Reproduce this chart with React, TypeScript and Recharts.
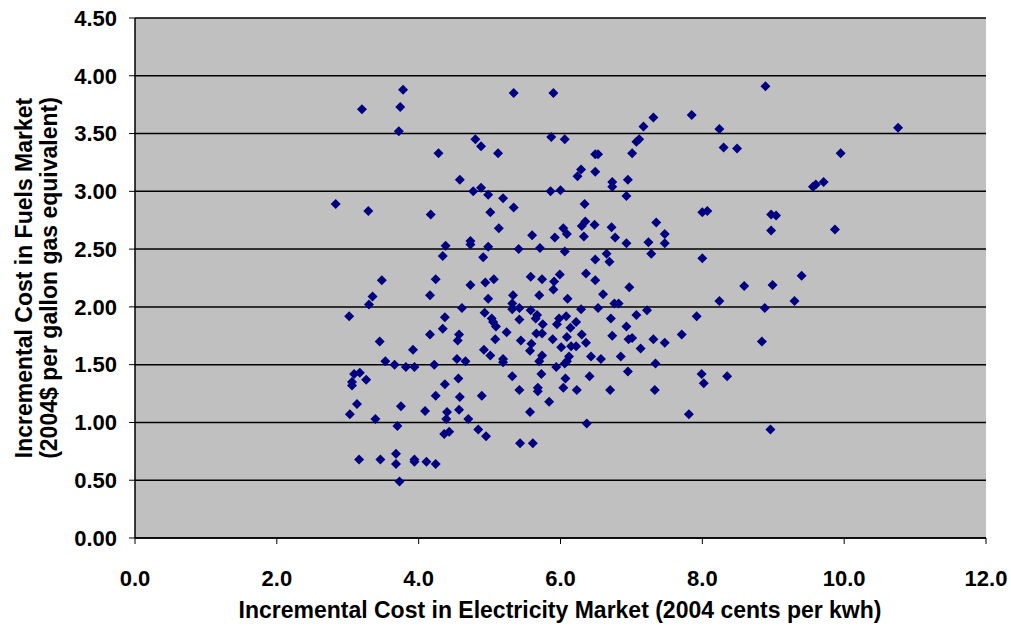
import React from 'react';
import { ScatterChart, Scatter, XAxis, YAxis, CartesianGrid } from 'recharts';

// [electricity cost (cents/kwh), fuels cost ($/gal)] pairs, grouped by electricity band
const band3: [number, number][] = [
  [2.83, 2.89], [3.02, 1.92], [3.03, 1.07], [3.06, 1.35], [3.06, 1.32], [3.09, 1.42], [3.13, 1.16],
  [3.16, 0.68], [3.17, 1.43], [3.2, 3.71], [3.26, 1.37], [3.29, 2.83], [3.3, 2.02], [3.35, 2.09],
  [3.39, 1.03], [3.45, 1.7], [3.46, 0.68], [3.48, 2.23], [3.53, 1.53], [3.66, 1.5], [3.68, 0.73],
  [3.68, 0.64], [3.7, 0.97], [3.72, 3.52], [3.74, 3.73], [3.75, 1.14], [3.73, 0.49], [3.78, 3.88],
  [3.82, 1.48], [3.92, 1.63], [3.94, 1.48], [3.94, 0.68], [3.94, 0.66],
];

const band4: [number, number][] = [
  [4.09, 1.1], [4.11, 0.66], [4.16, 2.1], [4.16, 1.76], [4.17, 2.8], [4.22, 1.5], [4.24, 2.24],
  [4.24, 1.23], [4.24, 0.64], [4.28, 3.33], [4.34, 2.44], [4.34, 1.81], [4.36, 0.9], [4.37, 1.91],
  [4.37, 1.33], [4.38, 2.53], [4.39, 1.03], [4.4, 1.09], [4.43, 0.92], [4.54, 1.55], [4.55, 1.71],
  [4.56, 1.38], [4.57, 1.76], [4.57, 1.11], [4.58, 3.1], [4.58, 1.22], [4.61, 1.99], [4.66, 1.53],
  [4.7, 1.03], [4.73, 2.57], [4.73, 2.54], [4.73, 2.19], [4.77, 3.0], [4.8, 3.45], [4.84, 0.94],
  [4.88, 3.39], [4.88, 3.03], [4.89, 1.23], [4.91, 2.43], [4.92, 1.63], [4.93, 1.95], [4.94, 2.21],
  [4.95, 0.88], [4.98, 2.97], [4.98, 2.52], [4.98, 2.07],
];

const band5: [number, number][] = [
  [5.01, 2.82], [5.01, 1.58], [5.03, 1.9], [5.05, 1.87], [5.06, 2.24], [5.08, 1.72], [5.09, 1.83],
  [5.12, 3.33], [5.13, 2.68], [5.19, 2.94], [5.19, 1.55], [5.19, 1.52], [5.24, 1.78], [5.32, 2.03],
  [5.32, 1.98], [5.32, 1.4], [5.33, 2.1], [5.34, 3.85], [5.34, 2.86], [5.41, 2.5], [5.42, 1.99],
  [5.42, 1.89], [5.42, 1.28], [5.43, 0.82], [5.44, 1.71], [5.57, 1.62], [5.57, 1.09], [5.58, 2.26],
  [5.58, 1.97], [5.59, 1.68], [5.6, 2.62], [5.61, 0.82], [5.65, 1.9], [5.66, 1.77], [5.67, 1.93],
  [5.68, 1.3], [5.68, 1.27], [5.7, 2.1], [5.7, 1.53], [5.71, 2.51], [5.73, 1.42], [5.74, 2.24],
  [5.74, 1.77], [5.74, 1.58], [5.75, 1.85], [5.84, 1.18], [5.86, 3.0], [5.87, 3.47], [5.89, 1.72],
  [5.9, 3.85], [5.9, 2.15], [5.91, 2.22], [5.92, 2.6], [5.94, 1.48], [5.95, 1.85], [5.98, 1.9],
  [5.99, 2.28],
];

const band6: [number, number][] = [
  [6.0, 3.01], [6.01, 1.65], [6.04, 2.68], [6.04, 1.3], [6.06, 3.45], [6.06, 2.48], [6.06, 1.51],
  [6.07, 1.38], [6.08, 1.92], [6.09, 2.63], [6.09, 1.74], [6.09, 1.53], [6.1, 2.07], [6.12, 1.57],
  [6.14, 1.82], [6.15, 1.66], [6.22, 1.87], [6.22, 1.66], [6.23, 1.28], [6.24, 3.13], [6.29, 3.19],
  [6.29, 1.98], [6.3, 2.7], [6.3, 1.76], [6.33, 2.61], [6.34, 2.89], [6.35, 2.74], [6.36, 2.29],
  [6.36, 1.69], [6.37, 0.99], [6.41, 1.4], [6.43, 1.57], [6.48, 2.71], [6.49, 3.32], [6.49, 3.17],
  [6.49, 2.41], [6.49, 2.23], [6.53, 3.32], [6.53, 1.99], [6.57, 1.55], [6.6, 2.11], [6.65, 2.46],
  [6.69, 2.39], [6.7, 1.28], [6.71, 1.9], [6.72, 2.69], [6.73, 3.08], [6.73, 3.04], [6.73, 1.75],
  [6.76, 2.03], [6.77, 2.6], [6.82, 2.03], [6.85, 1.57], [6.93, 2.96], [6.93, 2.55], [6.93, 1.83],
  [6.95, 3.1], [6.95, 1.44], [6.96, 1.72], [6.97, 2.17],
];

const band7up: [number, number][] = [
  [7.01, 3.33], [7.01, 1.73], [7.07, 3.43], [7.07, 1.93], [7.11, 3.45], [7.13, 1.64], [7.17, 3.56],
  [7.22, 1.97], [7.24, 2.56], [7.28, 2.46], [7.31, 3.64], [7.31, 1.72], [7.33, 1.28], [7.34, 1.51],
  [7.35, 2.73], [7.47, 2.63], [7.47, 2.55], [7.47, 1.69], [7.71, 1.76], [7.81, 1.07], [7.85, 3.66],
  [7.92, 1.92], [7.99, 1.42], [8.0, 2.82], [8.0, 2.42], [8.02, 1.34], [8.07, 2.83], [8.24, 3.54],
  [8.24, 2.05], [8.3, 3.38], [8.35, 1.4], [8.49, 3.37], [8.59, 2.18], [8.84, 1.7], [8.88, 1.99],
  [8.89, 3.91], [8.96, 0.94], [8.97, 2.8], [8.97, 2.66], [8.99, 2.19], [9.04, 2.79], [9.3, 2.05],
  [9.4, 2.27], [9.56, 3.04], [9.6, 3.06], [9.71, 3.08], [9.87, 2.67], [9.95, 3.33], [10.76, 3.55],
];

const xTicks = [0, 2, 4, 6, 8, 10, 12];
const yTicks = [0, 0.5, 1, 1.5, 2, 2.5, 3, 3.5, 4, 4.5];

const points = [...band3, ...band4, ...band5, ...band6, ...band7up].map(([x, y]) => ({ x, y }));

const FONT = '"Liberation Sans", Arial, sans-serif';

// navy diamond marker like the old Excel default
const Diamond = (props: any) => {
  const { cx, cy } = props;
  const r = 5;
  return (
    <path
      d={`M${cx},${cy - r}L${cx + r},${cy}L${cx},${cy + r}L${cx - r},${cy}Z`}
      fill="#000080"
    />
  );
};

const tickStyle = { fill: '#000', fontSize: 22, fontWeight: 700, fontFamily: FONT };

export default function App() {
  return (
    <div style={{ position: 'absolute', left: 0, top: 0, width: 1011, height: 627, background: '#fff' }}>
      <ScatterChart width={1011} height={627} margin={{ top: 18, right: 25, bottom: 0, left: 0 }}>
        <CartesianGrid vertical={false} stroke="#000" strokeWidth={1.5} fill="#C0C0C0" fillOpacity={1} />
        <XAxis
          type="number"
          dataKey="x"
          domain={[0, 12]}
          ticks={xTicks}
          height={89}
          tickFormatter={(v: number) => v.toFixed(1)}
          tick={tickStyle}
          tickSize={6}
          tickMargin={26}
          axisLine={{ stroke: '#000', strokeWidth: 1.5 }}
          tickLine={{ stroke: '#000' }}
          allowDataOverflow
        />
        <YAxis
          type="number"
          dataKey="y"
          domain={[0, 4.5]}
          ticks={yTicks}
          width={135}
          tickFormatter={(v: number) => v.toFixed(2)}
          tick={tickStyle}
          tickSize={6}
          tickMargin={12}
          axisLine={{ stroke: '#000', strokeWidth: 1.5 }}
          tickLine={{ stroke: '#000' }}
          allowDataOverflow
        />
        <Scatter data={points} shape={Diamond} isAnimationActive={false} />
      </ScatterChart>
      <svg
        width={1011}
        height={627}
        style={{ position: 'absolute', left: 0, top: 0, pointerEvents: 'none' }}
      >
        <g fontFamily={FONT} fontWeight={700} fontSize={23} fill="#000">
          <text x={560} y={618} textAnchor="middle">
            Incremental Cost in Electricity Market (2004 cents per kwh)
          </text>
          <text transform="translate(32,278) rotate(-90)" textAnchor="middle">
            Incremental Cost in Fuels Market
          </text>
          <text transform="translate(57,278) rotate(-90)" textAnchor="middle">
            (2004$ per gallon gas equivalent)
          </text>
        </g>
      </svg>
    </div>
  );
}
